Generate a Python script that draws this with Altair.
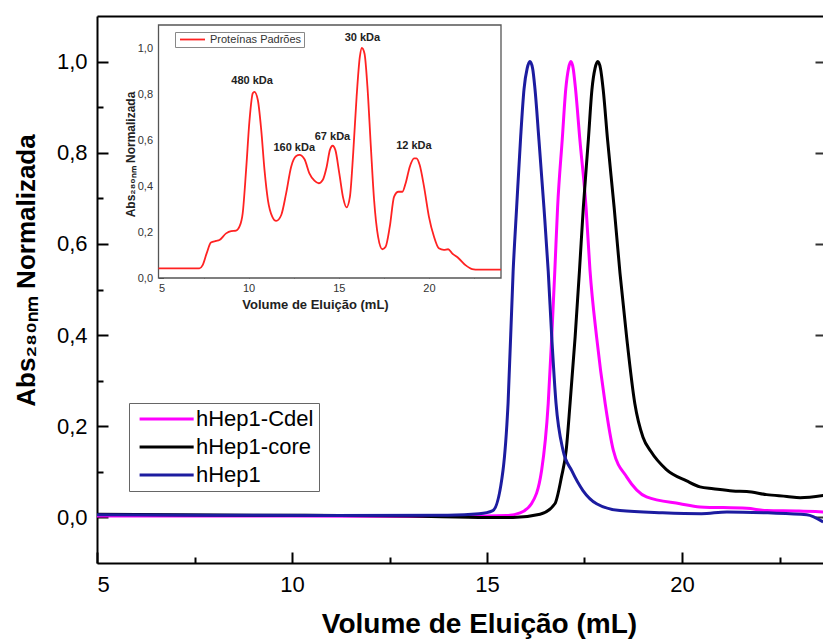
import altair as alt
import pandas as pd

FONT = "Liberation Sans"
W, H = 726, 547            # plot area in pixels
X_END = 5 + W / 39.0       # right end of the elution-volume axis
COMMA = "replace(format(datum.value, '.1f'), '.', ',')"

# ---- normalised A280 elution profiles (size-exclusion chromatography) ----
cdel_vol = [5.0, 10.0, 14.0, 15.5, 15.85, 16.14, 16.40, 16.57, 16.66, 16.74, 16.81, 16.93,
            17.02, 17.09, 17.15, 17.21, 17.27, 17.38, 17.54, 17.64, 17.81, 18.03, 18.24,
            18.58, 19.09, 19.95, 20.46, 21.66, 22.17, 23.0, 23.62]
cdel_abs = [0.003, 0.003, 0.002, 0.004, 0.010, 0.030, 0.103, 0.250, 0.396, 0.543, 0.680, 0.830,
            0.940, 0.985, 1.000, 0.985, 0.940, 0.830, 0.680, 0.543, 0.396, 0.250, 0.147,
            0.089, 0.045, 0.030, 0.023, 0.020, 0.015, 0.014, 0.012]

core_vol = [5.0, 9.0, 13.0, 15.0, 15.67, 16.36, 16.74, 16.91, 17.03, 17.13, 17.26, 17.37,
            17.47, 17.60, 17.69, 17.77, 17.84, 17.91, 17.98, 18.09, 18.26, 18.41, 18.58,
            18.79, 19.0, 19.2, 19.6, 20.12, 20.46, 20.8, 21.3, 21.66, 22.17, 22.69, 23.03, 23.62]
core_abs = [0.007, 0.005, 0.003, 0.000, 0.000, 0.007, 0.030, 0.089, 0.147, 0.250, 0.396, 0.540,
            0.680, 0.830, 0.938, 0.985, 1.000, 0.985, 0.938, 0.830, 0.680, 0.536, 0.396,
            0.250, 0.176, 0.145, 0.105, 0.080, 0.067, 0.063, 0.058, 0.057, 0.050, 0.046, 0.043, 0.048]

hep1_vol = [5.0, 8.0, 11.0, 14.0, 14.8, 15.15, 15.41, 15.54, 15.67, 15.76, 15.86, 15.95,
            16.03, 16.10, 16.17, 16.23, 16.33, 16.46, 16.57, 16.66, 16.77, 16.95, 17.17,
            17.46, 17.81, 18.41, 19.5, 20.5, 21.15, 22.2, 23.2, 23.62]
hep1_abs = [0.006, 0.005, 0.004, 0.005, 0.008, 0.015, 0.103, 0.250, 0.540, 0.680, 0.830, 0.940,
            0.985, 1.000, 0.985, 0.940, 0.830, 0.680, 0.540, 0.396, 0.250, 0.147, 0.103,
            0.059, 0.030, 0.015, 0.010, 0.008, 0.012, 0.010, 0.006, -0.010]

series = ["hHep1-Cdel", "hHep1-core", "hHep1"]
series_colors = ["#ff00ff", "#000000", "#1c1ca0"]

# ---- molecular-weight standards run (inset) ----
std_vol = [5.0, 7.27, 7.45, 7.67, 7.91, 8.19, 8.38, 8.75, 9.03, 9.30, 9.49, 9.67, 9.86, 10.05,
           10.23, 10.32, 10.51, 10.70, 10.88, 11.07, 11.31, 11.53, 11.81, 12.08, 12.36, 12.64,
           12.82, 13.10, 13.37, 13.65, 13.89, 14.11, 14.33, 14.51, 14.66, 14.81, 15.03, 15.25,
           15.43, 15.62, 15.80, 15.99, 16.17, 16.28, 16.43, 16.59, 16.78, 16.96, 17.18, 17.42,
           17.60, 17.83, 18.07, 18.31, 18.53, 18.71, 18.94, 19.18, 19.31, 19.49, 19.73, 20.00,
           20.28, 20.55, 20.83, 21.07, 21.29, 21.66, 22.03, 22.40, 22.77, 24.0]
std_abs = [0.042, 0.042, 0.056, 0.107, 0.154, 0.161, 0.165, 0.194, 0.204, 0.206, 0.223, 0.281,
           0.470, 0.687, 0.803, 0.809, 0.774, 0.643, 0.470, 0.339, 0.267, 0.248, 0.274, 0.368,
           0.484, 0.530, 0.535, 0.516, 0.455, 0.423, 0.412, 0.426, 0.484, 0.557, 0.575, 0.557,
           0.455, 0.346, 0.307, 0.354, 0.542, 0.788, 0.962, 1.000, 0.975, 0.832, 0.571, 0.339,
           0.180, 0.125, 0.136, 0.223, 0.354, 0.375, 0.375, 0.412, 0.484, 0.520, 0.520, 0.491,
           0.397, 0.267, 0.180, 0.129, 0.122, 0.125, 0.107, 0.085, 0.056, 0.039, 0.036, 0.036]
std_names = ["480 kDa", "160 kDa", "67 kDa", "30 kDa", "12 kDa"]
std_name_vol = [10.19, 12.53, 14.65, 16.31, 19.17]
std_name_abs = [0.857, 0.567, 0.612, 1.045, 0.574]

x_ticks = [5, 10, 15, 20]
x_minor = [7.5, 12.5, 17.5, 22.5]
y_ticks = [0.0, 0.2, 0.4, 0.6, 0.8, 1.0]
y_minor = [0.1, 0.3, 0.5, 0.7, 0.9]

# ---- tables ----
rows = []
for name, vols, vals in zip(series, [cdel_vol, core_vol, hep1_vol], [cdel_abs, core_abs, hep1_abs]):
    for v, a in zip(vols, vals):
        rows.append({"vol": v, "abs": a, "amostra": name})
main_df = pd.DataFrame(rows)

std_df = pd.DataFrame({"vol": std_vol, "abs": std_abs, "serie": "Proteínas Padrões"})
names_df = pd.DataFrame({"vol": std_name_vol, "abs": std_name_abs, "nome": std_names})
frame_df = pd.DataFrame({"x0": [5.0], "x1": [24.0], "y0": [0.0], "y1": [1.1]})

# ---- main panel ----
xs = alt.Scale(domain=[5, X_END], nice=False, zero=False)
ys = alt.Scale(domain=[-0.1, 1.1], nice=False, zero=False)

lines = alt.Chart(main_df).mark_line(strokeWidth=3, interpolate="monotone").encode(
    x=alt.X("vol:Q", scale=xs, axis=alt.Axis(
        orient="bottom", values=x_ticks, ticks=False, tickSize=0, grid=False,
        domainColor="black", domainWidth=2,
        labelFont=FONT, labelFontSize=22, labelColor="black", labelPadding=11,
        title="Volume de Eluição (mL)", titleFont=FONT, titleFontSize=28,
        titleFontWeight="bold", titleColor="black", titleAlign="center",
        titleBaseline="alphabetic", titleX=382, titleY=69)),
    y=alt.Y("abs:Q", scale=ys, axis=alt.Axis(
        orient="left", values=y_ticks, labelExpr=COMMA, ticks=False, tickSize=0, grid=False,
        domainColor="black", domainWidth=2,
        labelFont=FONT, labelFontSize=22, labelColor="black", labelPadding=10,
        title="Abs₂₈₀ₙₘ Normalizada", titleFont=FONT, titleFontSize=26,
        titleFontWeight="bold", titleColor="black", titleAngle=270, titleAlign="center",
        titleBaseline="middle", titleX=-71, titleY=254)),
    color=alt.Color("amostra:N", sort=series,
                    scale=alt.Scale(domain=series, range=series_colors),
                    legend=alt.Legend(
                        orient="none", legendX=32, legendY=387, title=None,
                        symbolType="M-1,0H9", symbolSize=117, symbolStrokeWidth=3,
                        labelFont=FONT, labelFontSize=22, labelColor="black",
                        labelOffset=40, rowPadding=6, padding=5, labelLimit=400,
                        strokeColor="#666", fillColor="white")),
)

ghost = alt.Chart(main_df).mark_line(strokeOpacity=0)


def tick_layer(base, xfield, yfield, xscale, yscale, xvals, yvals, size, width, color,
               x_orient, x_off, y_orient, y_off, x_domain=False, y_domain=False):
    return base.encode(
        x=alt.X(xfield, scale=xscale, axis=alt.Axis(
            orient=x_orient, offset=x_off, values=xvals, labels=False, domain=x_domain,
            domainColor="black", domainWidth=2, ticks=len(xvals) > 0, tickSize=size,
            tickWidth=width, tickColor=color, grid=False, title=None)),
        y=alt.Y(yfield, scale=yscale, axis=alt.Axis(
            orient=y_orient, offset=y_off, values=yvals, labels=False, domain=y_domain,
            ticks=len(yvals) > 0, tickSize=size, tickWidth=width, tickColor=color,
            grid=False, title=None)),
    )


# inward ticks: an axis of the opposite orientation moved onto the edge
major = tick_layer(ghost, "vol:Q", "abs:Q", xs, ys, x_ticks, y_ticks, 11, 2, "black",
                   "top", -H, "right", -W)
minor = tick_layer(ghost, "vol:Q", "abs:Q", xs, ys, x_minor, y_minor, 6, 2, "black",
                   "top", -H, "right", -W)
# top frame line and the inward ticks on the right edge
frame = tick_layer(ghost, "vol:Q", "abs:Q", xs, ys, [], y_ticks, 8, 2, "#333",
                   "top", 0, "left", -W, x_domain=True)

main_group = alt.layer(lines, frame, major, minor).resolve_axis(x="independent", y="independent")

# ---- inset panel ----
IX0, IX1, IY0, IY1 = 61.5, 404.0, 262.0, 9.0
xi = alt.Scale(domain=[5, 24], range=[IX0, IX1], nice=False, zero=False)
yi = alt.Scale(domain=[0, 1.1], range=[IY0, IY1], nice=False, zero=False)

inset_box = alt.Chart(frame_df).mark_rect(fill="white", stroke="#555", strokeWidth=1.3).encode(
    x=alt.X("x0:Q", scale=xi, axis=None), x2="x1:Q",
    y=alt.Y("y0:Q", scale=yi, axis=None), y2="y1:Q",
)

inset_line = alt.Chart(std_df).mark_line(strokeWidth=1.8, interpolate="monotone").encode(
    x=alt.X("vol:Q", scale=xi, axis=alt.Axis(
        orient="bottom", offset=-(H - IY0), values=x_ticks, ticks=False, tickSize=0,
        domain=False, grid=False, labelFont=FONT, labelFontSize=11, labelColor="#333",
        labelPadding=4, title="Volume de Eluição (mL)", titleFont=FONT, titleFontSize=13,
        titleFontWeight="bold", titleColor="#222", titleAlign="center",
        titleBaseline="alphabetic", titleX=218, titleY=30)),
    y=alt.Y("abs:Q", scale=yi, axis=alt.Axis(
        orient="left", offset=-IX0, values=y_ticks, labelExpr=COMMA, ticks=False, tickSize=0,
        domain=False, grid=False, labelFont=FONT, labelFontSize=11, labelColor="#333",
        labelPadding=6, title="Abs₂₈₀ₙₘ Normalizada", titleFont=FONT, titleFontSize=12,
        titleFontWeight="bold", titleColor="#222", titleAngle=270, titleAlign="center",
        titleBaseline="middle", titleX=-28.5, titleY=138)),
    color=alt.Color("serie:N", scale=alt.Scale(range=["#ff2222"]), legend=alt.Legend(
        orient="none", legendX=78, legendY=16, title=None,
        symbolType="M-1,0H9", symbolSize=25, symbolStrokeWidth=1.8,
        labelFont=FONT, labelFontSize=11, labelColor="#333", labelOffset=22,
        padding=2, strokeColor="#888", fillColor="white")),
)

inset_ghost = alt.Chart(std_df).mark_line(strokeOpacity=0)
inset_major = tick_layer(inset_ghost, "vol:Q", "abs:Q", xi, yi, x_ticks, y_ticks, 5, 1, "#444",
                         "top", -IY0, "right", -(W - IX0))
inset_minor = tick_layer(inset_ghost, "vol:Q", "abs:Q", xi, yi, x_minor, y_minor, 3, 1, "#444",
                         "top", -IY0, "right", -(W - IX0))

peak_names = alt.Chart(names_df).mark_text(
    font=FONT, fontSize=11, fontWeight="bold", color="#222", align="center", baseline="middle"
).encode(
    x=alt.X("vol:Q", scale=xi, axis=None),
    y=alt.Y("abs:Q", scale=yi, axis=None),
    text="nome:N",
)

inset_group = alt.layer(inset_box, inset_line, inset_major, inset_minor, peak_names).resolve_axis(
    x="independent", y="independent")

chart = alt.layer(main_group, inset_group).resolve_scale(
    x="independent", y="independent", color="independent"
).properties(
    width=W, height=H,
    autosize=alt.AutoSizeParams(type="none"),
    padding={"left": 97, "top": 16, "right": 0, "bottom": 77},
    background="white",
).configure_view(stroke=None)

chart.save("out.html", embed_options={"renderer": "svg", "actions": False})
